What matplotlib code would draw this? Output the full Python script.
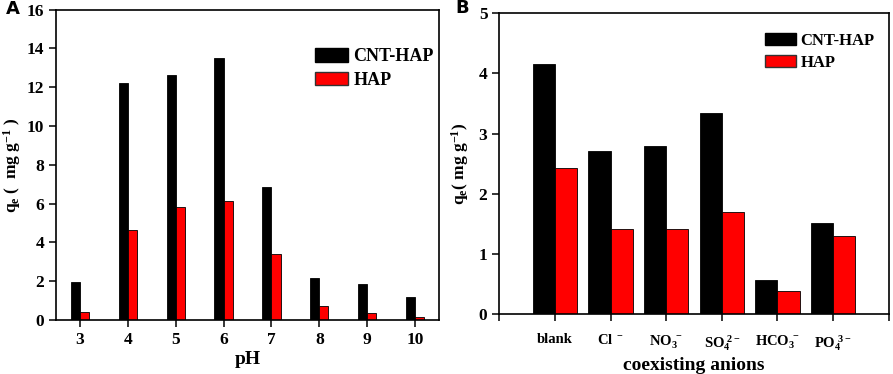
import matplotlib
matplotlib.use('Agg')
import matplotlib.pyplot as plt
import numpy as np
from matplotlib.patches import Patch

plt.rcParams['font.family'] = 'Liberation Serif'
plt.rcParams['font.weight'] = 'bold'
plt.rcParams['axes.labelweight'] = 'bold'
plt.rcParams['mathtext.fontset'] = 'custom'
plt.rcParams['mathtext.rm'] = 'Liberation Serif:bold'
plt.rcParams['mathtext.it'] = 'Liberation Serif:bold'
plt.rcParams['mathtext.bf'] = 'Liberation Serif:bold'

# panel A: effect of pH
ph = [3, 4, 5, 6, 7, 8, 9, 10]
cnt_hap_ph = [1.94, 12.22, 12.6, 13.48, 6.83, 2.16, 1.84, 1.17]
hap_ph = [0.39, 4.65, 5.8, 6.13, 3.4, 0.74, 0.34, 0.15]

# panel B: coexisting anions
anions = ['blank', 'Cl$^{\\ -}$', 'NO$_3^{\\ -}$', 'SO$_4^{\\ 2-}$',
          'HCO$_3^{\\ -}$', 'PO$_4^{\\ 3-}$']
cnt_hap_an = [4.15, 2.705, 2.79, 3.34, 0.57, 1.51]
hap_an = [2.42, 1.42, 1.41, 1.70, 0.38, 1.29]

W, H = 893, 374
fig = plt.figure(figsize=(W / 100, H / 100), dpi=100)
axA = fig.add_axes([56 / W, 1 - 320 / H, 383 / W, 310.5 / H])
axB = fig.add_axes([499.3 / W, 1 - 314 / H, 389.4 / W, 300.7 / H])

tfs = 12.5
for ax in (axA, axB):
    for s in ax.spines.values():
        s.set_linewidth(1.2)
    ax.tick_params(direction='out', length=5, width=1.1, labelsize=tfs,
                   top=False, right=False)


def add_legend(ax, anchor, fs):
    ax.legend(handles=[Patch(facecolor='black', edgecolor='black'),
                       Patch(facecolor='#ff0000', edgecolor='#333333')],
              labels=['CNT-HAP', 'HAP'], loc='upper left',
              bbox_to_anchor=anchor, frameon=False, fontsize=fs,
              borderpad=0, borderaxespad=0,
              handlelength=1.85, handleheight=0.75, handletextpad=0.3,
              labelspacing=0.35)


# A
x = np.array(ph, dtype=float)
w = 0.19
axA.bar(x - w / 2, cnt_hap_ph, w, color='black', edgecolor='black', lw=0.6)
axA.bar(x + w / 2, hap_ph, w, color='#ff0000', edgecolor='black', lw=0.6)
axA.set_xlim(2.5, 10.5)
axA.set_ylim(0, 16)
axA.set_xticks(ph)
axA.set_yticks(range(0, 17, 2))
axA.set_xlabel('pH', fontsize=14, labelpad=2)
axA.set_ylabel('q$_e$ (  mg g$^{-1}$ )', fontsize=12.5)
axA.yaxis.set_label_coords(-0.087, 0.5)
add_legend(axA, (0.675, 0.875), 13)

# B
xb = np.arange(len(anions))
wb = 0.4
axB.bar(xb - wb / 2, cnt_hap_an, wb, color='black', edgecolor='black', lw=0.6)
axB.bar(xb + wb / 2, hap_an, wb, color='#ff0000', edgecolor='black', lw=0.6)
axB.set_xlim(-1, 6)
axB.set_ylim(0, 5)
axB.set_xticks(range(-1, 7))
axB.set_xticklabels([''] + anions + [''])
axB.tick_params(axis='x', labelsize=10.5, pad=9)
axB.set_yticks(range(0, 6))
axB.set_xlabel('coexisting anions', fontsize=14, labelpad=3)
axB.set_ylabel('q$_e$( mg g$^{-1}$)', fontsize=12.5)
axB.yaxis.set_label_coords(-0.073, 0.5)
add_legend(axB, (0.682, 0.935), 12)

fig.text(6 / W, 1 - 9 / H, 'A', family='DejaVu Sans', weight='bold',
         fontsize=13, va='center')
fig.text(455 / W, 1 - 8 / H, 'B', family='DejaVu Sans', weight='bold',
         fontsize=13, va='center')

fig.savefig('out.png', dpi=100)
